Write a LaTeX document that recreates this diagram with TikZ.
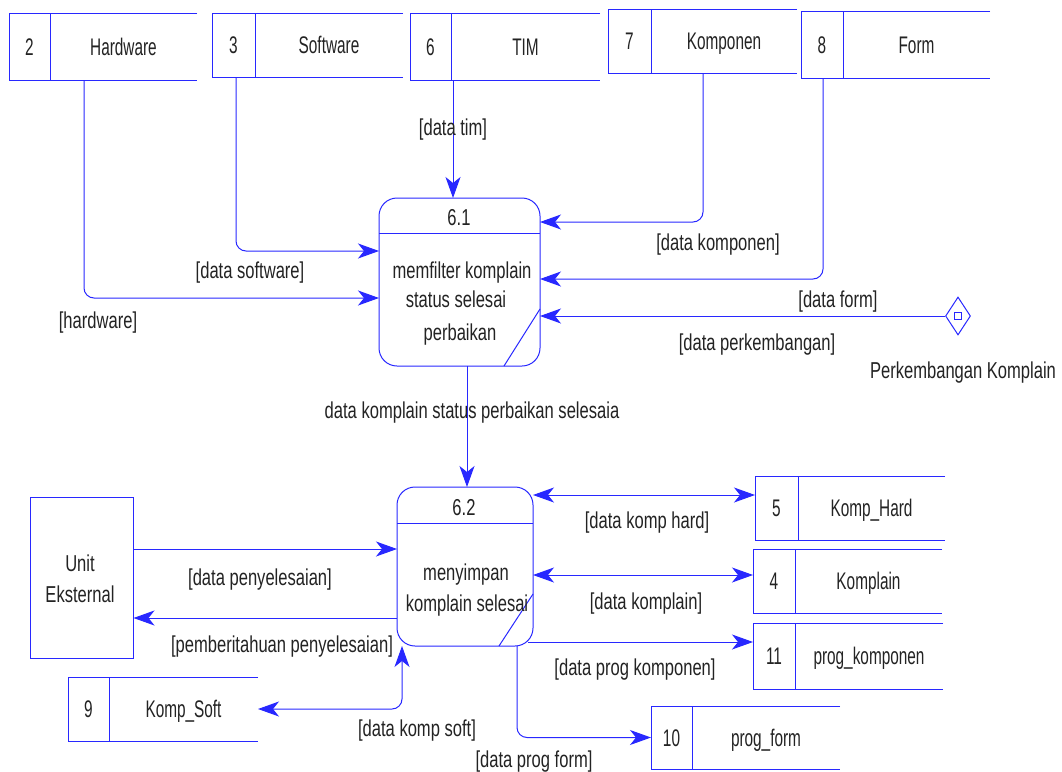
\documentclass[tikz,border=0pt]{standalone}
\usepackage{fontspec}
\setmainfont[FakeStretch=0.72]{Liberation Sans}
\newfontfamily\storefont[FakeStretch=0.64]{Liberation Sans}
\usetikzlibrary{arrows.meta,calc,shapes.geometric}

\definecolor{flowblue}{RGB}{40,40,255}
\definecolor{ink}{RGB}{35,35,35}

\tikzset{
  line/.style={draw=flowblue, line width=1pt},
  tip/.tip={Stealth[length=21pt,width=15pt,inset=6pt,color=flowblue]},
  flow/.style={line, -tip},
  flowboth/.style={line, tip-tip},
  txt/.style={text=ink, font=\fontsize{23}{26}\selectfont, inner sep=0pt,
              text height=16.5pt, text depth=0pt},
  lbl/.style={txt},
  storetxt/.style={text=ink, font=\storefont\fontsize{24}{27}\selectfont, inner sep=0pt,
              text height=17.2pt, text depth=0pt},
  storearea/.style={rectangle, draw=none, inner sep=0pt, outer sep=0pt},
  proc/.style={rectangle, line, rounded corners=18pt, inner sep=0pt, outer sep=0pt},
}

% data store: name, left, top, right, bottom, divider x, number, title
\newcommand\datastore[8]{%
  \node[storearea, minimum width={(#4-#2)*1pt}, minimum height={(#5-#3)*1pt}]
    (#1) at ({(#2+#4)/2},{(#3+#5)/2}) {};
  \draw[line] (#1.north east) -- (#1.north west) -- (#1.south west) -- (#1.south east);
  \draw[line] ($(#1.north west)+(#6-#2,0)$) -- ($(#1.south west)+(#6-#2,0)$);
  \node[storetxt] (#1-num) at ({(#2+#6)/2},{(#3+#5)/2}) {#7};
  \node[storetxt] (#1-name) at ({(#6+#4)/2},{(#3+#5)/2}) {#8};
}

\begin{document}
\begin{tikzpicture}[x=1pt, y=-1pt]
\useasboundingbox (0,0) rectangle (1062,771);
\fill[white] (0,0) rectangle (1062,771);

% ---- data stores ----
\datastore{s2}{9}{13}{197}{80}{50}{2}{Hardware}
\datastore{s3}{212}{13}{403}{77}{255}{3}{Software}
\datastore{s6}{410}{13}{600}{80}{451}{6}{TIM}
\datastore{s7}{608}{9}{797}{73}{651}{7}{Komponen}
\datastore{s8}{801}{11}{990}{78}{843}{8}{Form}
\datastore{s5}{755}{476}{945}{540}{798}{5}{Komp\_Hard}
\datastore{s4}{753}{549}{942}{613}{795}{4}{Komplain}
\datastore{s11}{753}{623}{943}{689}{795}{11}{prog\_komponen}
\datastore{s10}{651}{706}{840}{769}{692}{10}{prog\_form}
\datastore{s9}{68}{677}{258}{741}{109}{9}{Komp\_Soft}

% ---- process 6.1 ----
\node[proc, minimum width=161pt, minimum height=168pt] (p61) at (459.5,282) {};
\draw[line] ($(p61.north west)+(0,35)$) -- ($(p61.north east)+(0,35)$);
\draw[line] ($(p61.north east)+(0,111)$) -- ($(p61.south east)+(-36,0)$);
\node[txt] (p61-id) at (459,217) {6.1};
\node[txt] (p61-t1) at (462,270) {memfilter komplain};
\node[txt] (p61-t2) at (456,299) {status selesai};
\node[txt] (p61-t3) at (460,332) {perbaikan};

% ---- process 6.2 ----
\node[proc, minimum width=136pt, minimum height=159pt] (p62) at (465,566.5) {};
\draw[line] ($(p62.north west)+(0,36)$) -- ($(p62.north east)+(0,36)$);
\draw[line] ($(p62.north east)+(0,107)$) -- ($(p62.south east)+(-34,0)$);
\node[txt] (p62-id) at (464,507) {6.2};
\node[txt] (p62-t1) at (466,572) {menyimpan};
\node[txt] (p62-t2) at (467,603) {komplain selesai};

% ---- external entity ----
\node[rectangle, line, minimum width=103pt, minimum height=161pt, inner sep=0pt] (ue) at (81.5,577.5) {};
\node[txt] (ue-t1) at (80,563) {Unit};
\node[txt] (ue-t2) at (80,594) {Eksternal};

% ---- event source ----
\node[diamond, line, minimum width=25pt, minimum height=38pt, inner sep=0pt] (dm) at (958,316) {};
\node[rectangle, line, minimum width=7pt, minimum height=7pt, inner sep=0pt] (dm-sq) at (dm.center) {};
\node[txt] (dm-name) at (963,370) {Perkembangan Komplain};

% ---- flows into 6.1 ----
\coordinate (t6) at ($(s6.south west)+(43,0)$);
\draw[flow] (t6) -- (t6 |- p61.north);
\node[lbl] (l-tim) at (453,127) {[data tim]};

\coordinate (t3) at ($(s3.south west)+(24,0)$);
\draw[flow, rounded corners=10pt] (t3) |- ($(p61.west)+(0,-31)$);
\node[lbl] (l-sw) at (250,270) {[data software]};

\coordinate (t2) at ($(s2.south west)+(75,0)$);
\draw[flow, rounded corners=10pt] (t2) |- ($(p61.west)+(0,16)$);
\node[lbl] (l-hw) at (98,320) {[hardware]};

\coordinate (t7) at ($(s7.south west)+(95,0)$);
\draw[flow, rounded corners=10pt] (t7) |- ($(p61.east)+(0,-60)$);
\node[lbl] (l-komp) at (718,242) {[data komponen]};

\coordinate (t8) at ($(s8.south west)+(22,0)$);
\draw[flow, rounded corners=10pt] (t8) |- ($(p61.east)+(0,-3)$);
\node[lbl] (l-form) at (838,299) {[data form]};

\draw[flow] (dm.west) -- (dm.west -| p61.east);
\node[lbl] (l-perk) at (757,342) {[data perkembangan]};

% ---- 6.1 to 6.2 ----
\coordinate (t61) at ($(p61.south)+(7.5,0)$);
\draw[flow] (t61) -- (t61 |- p62.north);
\node[lbl] (l-main) at (472,410) {data komplain status perbaikan selesaia};

% ---- flows around 6.2 ----
\coordinate (t5) at ($(s5.west)+(0,-13)$);
\draw[flowboth] (t5 -| p62.east) -- (t5);
\node[lbl] (l-hard) at (647,520) {[data komp hard]};

\coordinate (t4) at ($(s4.west)+(0,-6)$);
\draw[flowboth] (t4 -| p62.east) -- (t4);
\node[lbl] (l-kompl) at (646,601) {[data komplain]};

\coordinate (t11) at ($(s11.west)+(0,-14)$);
\draw[flow] ($(p62.south east)+(-5,-4)$) -- (t11);
\node[lbl] (l-pk) at (635,667) {[data prog komponen]};

\draw[flow, rounded corners=10pt] ($(p62.south)+(52,0)$) |- (s10.west);
\node[lbl] (l-pf) at (534,759) {[data prog form]};

\coordinate (tin) at ($(p62.west)+(0,-17.5)$);
\draw[flow] (tin -| ue.east) -- (tin);
\node[lbl] (l-peny) at (260,577) {[data penyelesaian]};

\coordinate (tout) at ($(p62.west)+(0,51.5)$);
\draw[flow] (tout) -- (tout -| ue.east);
\node[lbl] (l-pemb) at (282,644) {[pemberitahuan penyelesaian]};

\draw[flowboth, rounded corners=10pt] (s9.east) -| ($(p62.south)+(-63,0)$);
\node[lbl] (l-soft) at (417,728) {[data komp soft]};
\end{tikzpicture}
\end{document}
